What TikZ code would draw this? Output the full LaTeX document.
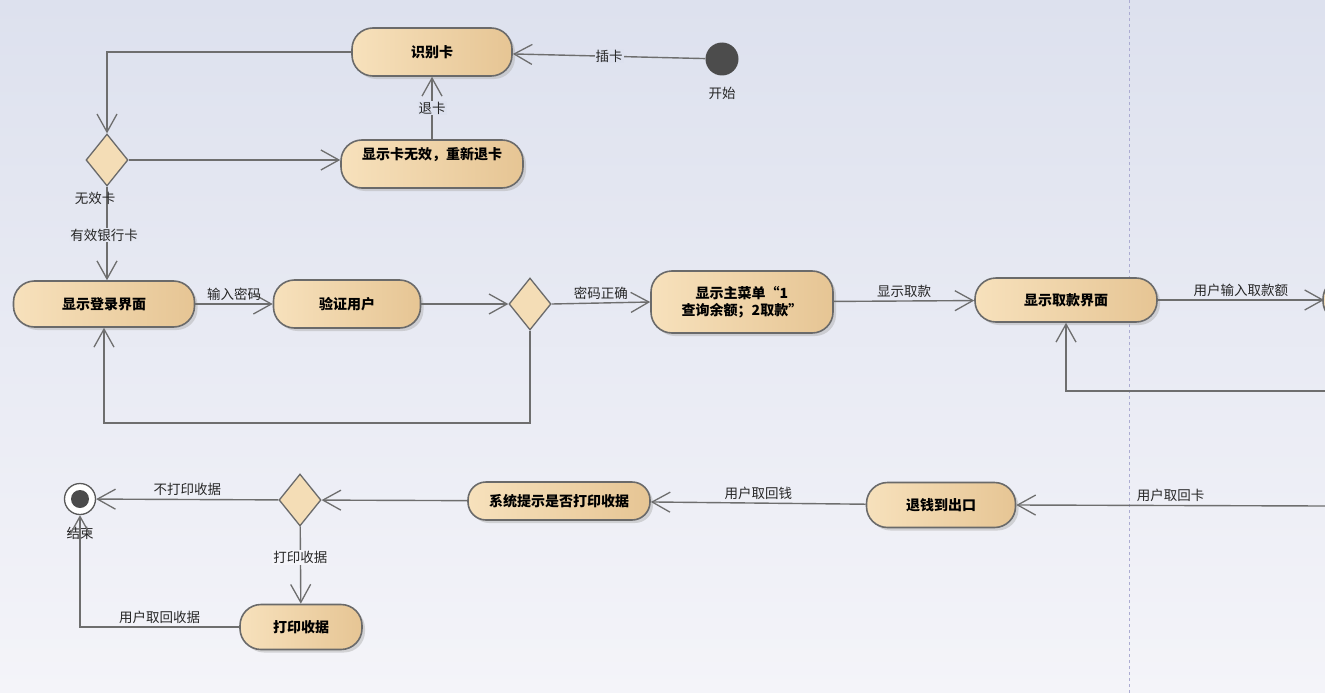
\documentclass[tikz,border=0pt]{standalone}
\usepackage{fontspec}
\setmainfont{Noto Sans CJK SC}
\usetikzlibrary{arrows.meta,shapes.geometric,shadows,positioning}
\definecolor{bgtop}{HTML}{DDE1EE}
\definecolor{bgbot}{HTML}{F4F4F9}
\definecolor{fillL}{HTML}{F7E1BC}
\definecolor{fillR}{HTML}{E6C594}
\definecolor{edge}{HTML}{6A6A6A}
\definecolor{ln}{HTML}{6E6E6E}
\tikzset{
  x=1pt,y=-1pt,
  act/.style={rounded corners=21pt,draw=edge,line width=1.6pt,left color=fillL,right color=fillR,
    drop shadow={shadow xshift=3pt,shadow yshift=-3pt,fill=black!30},font=\bfseries\fontsize{14}{17}\selectfont,
    inner sep=0pt,align=center},
  dec/.style={diamond,draw=edge,line width=1.3pt,fill=fillL!85!fillR,inner sep=0pt,minimum width=42pt,minimum height=52pt,aspect=0.8},
  flow/.style={draw=ln,line width=1.4pt,-{Straight Barb[length=18pt,width=20pt,line width=1.3pt]}},
  lab/.style={font=\fontsize{13.5}{16}\selectfont,text=black!85,inner sep=1pt},
}
\begin{document}
\begin{tikzpicture}
\shade[top color=bgtop,bottom color=bgbot] (0,0) rectangle (1325,693);
\useasboundingbox (0,0) rectangle (1325,693);
\draw[dashed,draw=blue!30!gray!50,line width=0.8pt] (1129,0) -- (1129,693);

\node[act,minimum width=160pt,minimum height=48pt] (shibie) at (432,52) {识别卡};
\node[circle,fill=black!70,minimum size=33pt,inner sep=0pt] (start) at (722,59) {};
\node[lab] at (722,93) {开始};
\node[act,minimum width=182pt,minimum height=48pt,anchor=center] (wuxiao) at (432,164) {};
\node[font=\bfseries\fontsize{14}{17}\selectfont] at (432,155) {显示卡无效，重新退卡};
\node[dec] (d1) at (107,160) {};
\node[act,minimum width=181pt,minimum height=46pt] (denglu) at (104,304) {显示登录界面};
\node[act,minimum width=147pt,minimum height=48pt] (yanzheng) at (347,304) {验证用户};
\node[dec] (d2) at (530,304) {};
\node[act,minimum width=182pt,minimum height=62pt] (menu) at (742,302) {显示主菜单“1\\查询余额；2取款”};
\node[act,minimum width=182pt,minimum height=44pt] (qukuan) at (1066,300) {显示取款界面};
\begin{scope}
\clip (0,0) rectangle (1325,693);
\node[act,minimum width=100pt,minimum height=44pt] (right) at (1373,300) {};
\end{scope}
\coordinate (rin) at (1324,300);
\coordinate (r1) at (1325,391);
\coordinate (r2) at (1325,506);
\node[act,minimum width=149pt,minimum height=45pt] (tuiqian) at (941,505) {退钱到出口};
\node[act,minimum width=182pt,minimum height=38pt,rounded corners=18pt] (tishi) at (559,501) {系统提示是否打印收据};
\node[dec] (d3) at (300,500) {};
\node[circle,draw=black!65,line width=1.3pt,fill=white,minimum size=31pt,inner sep=0pt] (endc) at (80,499) {};
\node[circle,fill=black!70,minimum size=18pt,inner sep=0pt] at (endc) {};
\node[lab] at (80,533) {结束};
\node[act,minimum width=122pt,minimum height=45pt] (dayin) at (301,627) {打印收据};

\draw[flow] (start) -- node[lab,fill=bgtop] {插卡} (shibie);
\draw[flow] (shibie.west) -| (d1.north);
\draw[flow] (d1.east) -- (wuxiao.west |- d1.east);
\draw[flow] (wuxiao.north) -- node[lab,fill=bgtop] {退卡} (shibie.south);
\draw[flow] (d1.south) -- (denglu.north -| d1.south);
\node[lab] at (95,198) {无效卡};
\node[lab,fill=bgtop!70!bgbot] at (104,235) {有效银行卡};
\draw[flow] (denglu) -- node[lab,above=2pt] {输入密码} (yanzheng);
\draw[flow] (yanzheng) -- (d2);
\coordinate (c1) at (530,423);
\coordinate (c2) at (104,423);
\draw[flow] (d2.south) -- (c1) -- (c2) -- (denglu.south);
\draw[flow] (d2.east) -- node[lab,above=2pt] {密码正确} (menu.west);
\draw[flow] (menu) -- node[lab,above=2pt] {显示取款} (qukuan);
\draw[flow] (qukuan) -- node[lab,above=2pt] {用户输入取款额} (rin);
\coordinate (c3) at (1066,391);
\draw[flow] (r1) -- (c3) -- (qukuan.south);
\draw[flow] (r2) -- node[lab,above=2pt] {用户取回卡} (tuiqian.east);
\draw[flow] (tuiqian) -- node[lab,above=2pt] {用户取回钱} (tishi);
\draw[flow] (tishi) -- (d3);
\draw[flow] (d3) -- node[lab,above=2pt] {不打印收据} (endc);
\draw[flow] (d3) -- node[lab,fill=bgbot,pos=0.4] {打印收据} (dayin);
\coordinate (c4) at (80,627);
\draw[flow] (dayin.west) -- node[lab,above=2pt,pos=0.5] {用户取回收据} (c4) -- (endc.south);
\end{tikzpicture}
\end{document}
